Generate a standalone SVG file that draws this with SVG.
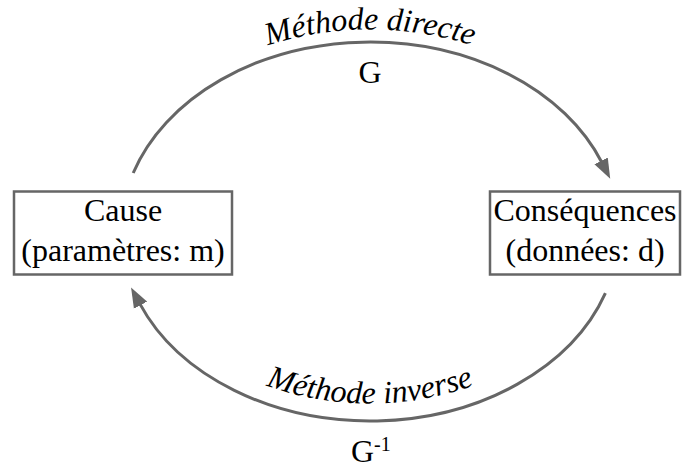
<svg xmlns="http://www.w3.org/2000/svg" width="683" height="470" viewBox="0 0 683 470">
<style>
.box{fill:#fff;stroke:#666;stroke-width:2.5}
.lbl{font-family:"Liberation Serif","Times New Roman",serif;font-size:32px;fill:#000}
.arc{fill:none;stroke:#666;stroke-width:3}
.it{font-family:"Liberation Serif","Times New Roman",serif;font-size:32px;font-style:italic;fill:#000}
</style>
<defs>
<marker id="ah" markerUnits="userSpaceOnUse" markerWidth="22" markerHeight="16" viewBox="0 -8 22 16" refX="2" refY="0" orient="auto">
<path d="M0,-7.5 L20,0 L0,7.5 z" fill="#666"/>
</marker>
<path id="tp1" d="M108,231.5 A262,202 0 0 1 632,231.5"/>
<path id="tp2" d="M138,231.5 A232,172 0 0 0 602,231.5"/>
</defs>
<g id="cause">
<rect class="box" x="14" y="191.5" width="218" height="83"/>
<text class="lbl" x="123" y="221" text-anchor="middle">Cause</text>
<text class="lbl" x="123" y="261" text-anchor="middle">(paramètres: m)</text>
</g>
<g id="consequences">
<rect class="box" x="490" y="191.5" width="190" height="83"/>
<text class="lbl" x="585" y="221" text-anchor="middle">Conséquences</text>
<text class="lbl" x="585" y="261" text-anchor="middle">(données: d)</text>
</g>
<g id="connectors">
<path class="arc" d="M133.2,173 A249,189.5 0 0 1 602,162.7" marker-end="url(#ah)"/>
<path class="arc" d="M605.4,293.2 A249,189.5 0 0 1 139.6,303.4" marker-end="url(#ah)"/>
<text class="it"><textPath href="#tp1" startOffset="50%" text-anchor="middle">Méthode directe</textPath></text>
<text class="lbl" x="370" y="83" text-anchor="middle">G</text>
<text class="it"><textPath href="#tp2" startOffset="50%" text-anchor="middle">Méthode inverse</textPath></text>
<text class="lbl" x="351" y="462">G<tspan font-size="20" dy="-11">-1</tspan></text>
</g>
</svg>
